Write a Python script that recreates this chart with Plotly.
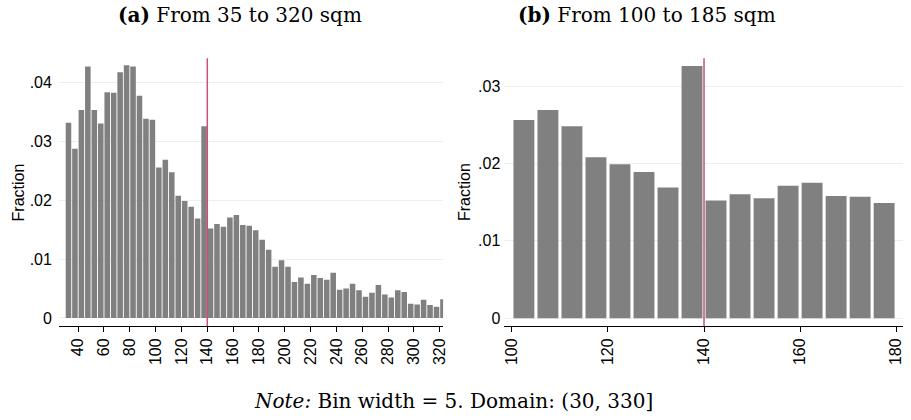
import plotly.graph_objects as go

# Histogram of dwelling size (sqm), bin width 5, lower bin edges start at 30
bin_width = 5
bin_start = 30
fractions = [
    0.0332, 0.0288, 0.0354, 0.0428, 0.0354, 0.0331, 0.0384, 0.0383, 0.0418, 0.0430,
    0.0428, 0.0378, 0.0339, 0.0337, 0.0256, 0.0269, 0.0248, 0.0208, 0.0199, 0.0189,
    0.0169, 0.0326, 0.0152, 0.0160, 0.0155, 0.0171, 0.0175, 0.0158, 0.0157, 0.0149,
    0.0133, 0.0116, 0.0087, 0.0098, 0.0087, 0.0061, 0.0069, 0.0058, 0.0073, 0.0068,
    0.0065, 0.0077, 0.0048, 0.0050, 0.0058, 0.0047, 0.0036, 0.0043, 0.0056, 0.0040,
    0.0035, 0.0047, 0.0044, 0.0024, 0.0023, 0.0031, 0.0022, 0.0019, 0.0032,
]
bin_lower = [bin_start + bin_width * i for i in range(len(fractions))]

# Zoomed panel: bins from 100 up to 180
zoom_lo, zoom_hi = 100, 180
zoom_idx = [i for i, lo in enumerate(bin_lower) if zoom_lo <= lo < zoom_hi]
zoom_lower = [bin_lower[i] for i in zoom_idx]
zoom_fractions = [fractions[i] for i in zoom_idx]

threshold = 140

left_xticks = list(range(40, 321, 20))
left_yticks = [0, 0.01, 0.02, 0.03, 0.04]
left_ylabels = ["0", ".01", ".02", ".03", ".04"]
right_xticks = [100, 120, 140, 160, 180]
right_yticks = [0, 0.01, 0.02, 0.03]
right_ylabels = ["0", ".01", ".02", ".03"]

titles = ["<b>(a)</b> From 35 to 320 sqm", "<b>(b)</b> From 100 to 185 sqm"]
note = "<i>Note:</i> Bin width = 5. Domain: (30, 330]"

BAR = "#808080"
GRID = "#eaf0f0"
RED = "#c9507a"
SANS = "Liberation Sans, Arial, sans-serif"
SERIF = "DejaVu Serif, serif"

fig = go.Figure()
fig.add_trace(go.Bar(
    x=[lo + bin_width / 2 for lo in bin_lower], y=fractions, width=bin_width * 0.86,
    marker=dict(color=BAR, line=dict(width=0)), xaxis="x", yaxis="y",
    hoverinfo="x+y", showlegend=False,
))
fig.add_trace(go.Bar(
    x=[lo + bin_width / 2 for lo in zoom_lower], y=zoom_fractions, width=bin_width * 0.87,
    marker=dict(color=BAR, line=dict(width=0)), xaxis="x2", yaxis="y2",
    hoverinfo="x+y", showlegend=False,
))

ydom = [0.2221, 0.8612]
xaxis_common = dict(
    showgrid=False, zeroline=False, showline=True, linecolor="black", linewidth=1,
    ticks="outside", ticklen=5, tickcolor="black", tickwidth=1, tickangle=-90,
    tickfont=dict(family=SANS, size=16, color="black"),
)
yaxis_common = dict(
    showgrid=True, gridcolor=GRID, gridwidth=1, zeroline=False, showline=False,
    ticks="", tickfont=dict(family=SANS, size=16, color="black"), domain=ydom,
)

fig.update_layout(
    width=911, height=420,
    margin=dict(l=0, r=0, t=0, b=0),
    paper_bgcolor="white", plot_bgcolor="white",
    barmode="overlay",
    xaxis=dict(xaxis_common, domain=[0.064, 0.4885], range=[25.1, 322.6],
               tickvals=left_xticks, anchor="y"),
    yaxis=dict(yaxis_common, range=[-0.00136, 0.0442], tickvals=left_yticks,
               ticktext=left_ylabels, anchor="x", ticklabelstandoff=6),
    xaxis2=dict(xaxis_common, domain=[0.5562, 0.9967], range=[98.43, 181.43],
                tickvals=right_xticks, anchor="y2"),
    yaxis2=dict(yaxis_common, range=[-0.001, 0.0336], tickvals=right_yticks,
                ticktext=right_ylabels, anchor="x2", ticklabelstandoff=3),
    shapes=[
        dict(type="line", xref="x", yref="y domain", x0=threshold, x1=threshold,
             y0=0, y1=1, line=dict(color=RED, width=1.5)),
        dict(type="line", xref="x2", yref="y2 domain", x0=threshold, x1=threshold,
             y0=0, y1=1, line=dict(color=RED, width=1.5)),
    ],
    annotations=[
        dict(text=titles[0], x=241 / 911, y=1 - 15 / 420, xref="paper", yref="paper",
             showarrow=False, font=dict(family=SERIF, size=20, color="black"),
             xanchor="center", yanchor="middle"),
        dict(text=titles[1], x=650 / 911, y=1 - 15 / 420, xref="paper", yref="paper",
             showarrow=False, font=dict(family=SERIF, size=20, color="black"),
             xanchor="center", yanchor="middle"),
        dict(text="Fraction", x=17.5 / 911, y=(ydom[0] + ydom[1]) / 2, xref="paper",
             yref="paper", showarrow=False, textangle=-90,
             font=dict(family=SANS, size=16, color="black"),
             xanchor="center", yanchor="middle"),
        dict(text="Fraction", x=466 / 911, y=(ydom[0] + ydom[1]) / 2, xref="paper",
             yref="paper", showarrow=False, textangle=-90,
             font=dict(family=SANS, size=16, color="black"),
             xanchor="center", yanchor="middle"),
        dict(text=note, x=455 / 911, y=1 - 402 / 420, xref="paper", yref="paper",
             showarrow=False, font=dict(family=SERIF, size=20, color="black"),
             xanchor="center", yanchor="middle"),
    ],
)

fig.write_html("out.html")
